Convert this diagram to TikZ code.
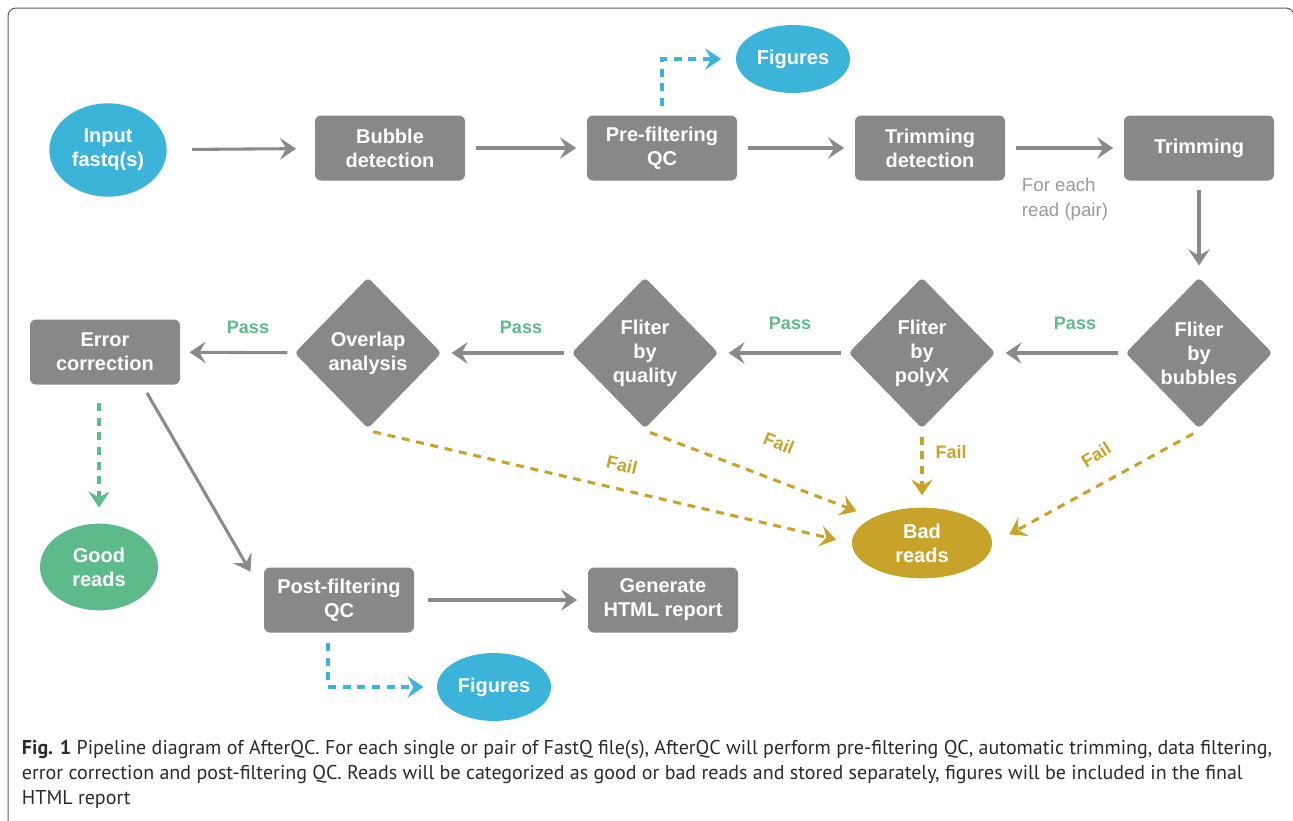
\documentclass[tikz,border=0pt]{standalone}
\usepackage{fontspec}
\setmainfont{Liberation Sans}
\newfontfamily\capfont{PT Sans}
\usetikzlibrary{arrows.meta, shapes.geometric}

\definecolor{boxgray}{HTML}{888888}
\definecolor{linegray}{HTML}{8A8A8A}
\definecolor{notegray}{HTML}{9A9A9A}
\definecolor{qcblue}{HTML}{3CB4DA}
\definecolor{goodgreen}{HTML}{5CBA8B}
\definecolor{badgold}{HTML}{C8A32A}
\definecolor{framegray}{HTML}{5A5A5A}
\definecolor{captext}{HTML}{2A2A2A}

\begin{document}
\begin{tikzpicture}[x=0.75pt, y=-0.75pt, align=center, line width=2.3pt,
  font=\bfseries\fontsize{15}{18}\selectfont,
  >={Stealth[length=12pt, width=16pt, inset=4.5pt]},
  proc/.style={fill=boxgray, text=white, rounded corners=4.5pt, minimum width=112.5pt, minimum height=48.75pt, inner sep=0pt},
  test/.style={diamond, fill=boxgray, text=white, rounded corners=3pt, minimum width=111pt, minimum height=114pt, inner sep=0pt},
  blob/.style={ellipse, text=white, inner sep=0pt},
  flow/.style={->, draw=linegray, shorten <=7pt, shorten >=7pt},
  back/.style={flow, shorten <=4pt, shorten >=6pt},
  dashy/.style={->, dash pattern=on 6pt off 5pt},
  fail/.style={dashy, draw=badgold},
  pass/.style={text=goodgreen, font=\bfseries\fontsize{13.5}{16}\selectfont},
  failtxt/.style={text=badgold, font=\bfseries\fontsize{13.5}{16}\selectfont}]

\useasboundingbox (0,0) rectangle (1293,821);
\draw[framegray, line width=0.75pt, rounded corners=6pt] (8,840) -- (8,8) -- (1294,8) -- (1294,840);

\node[blob, fill=qcblue, minimum width=88pt, minimum height=70pt] (input) at (108,150) {Input\\fastq(s)};
\node[proc] (bubble) at (390,148) {Bubble\\detection};
\node[proc] (preqc) at (662,148) {Pre-filtering\\QC};
\node[proc] (trimdet) at (930,148) {Trimming\\detection};
\node[proc] (trim) at (1199,148) {Trimming};
\node[blob, fill=qcblue, minimum width=85.5pt, minimum height=51pt] (figpre) at (793,59) {Figures};
\node[anchor=north west, align=left, text=notegray, font=\fontsize{14}{18.75}\selectfont] (note) at (1016,172) {For each\\read (pair)};

\node[test] (bubbles) at (1199,353) {Fliter\\by\\bubbles};
\node[test] (polyx) at (922,353) {Fliter\\by\\polyX};
\node[test] (quality) at (645,353) {Fliter\\by\\quality};
\node[test] (overlap) at (368,353) {Overlap\\analysis};
\node[proc] (errcor) at (105,352) {Error\\correction};

\node[pass] (pass1) at (1075,323) {Pass};
\node[pass] (pass2) at (790,323) {Pass};
\node[pass] (pass3) at (521,327) {Pass};
\node[pass] (pass4) at (248,327) {Pass};

\node[blob, fill=badgold, minimum width=105pt, minimum height=53pt] (bad) at (922,543) {Bad\\reads};
\node[blob, fill=goodgreen, minimum width=88.5pt, minimum height=65pt] (good) at (99,567) {Good\\reads};
\node[proc] (postqc) at (339,600) {Post-filtering\\QC};
\node[proc] (report) at (663,600) {Generate\\HTML report};
\node[blob, fill=qcblue, minimum width=85.5pt, minimum height=51pt] (figpost) at (494,687) {Figures};

\node[failtxt, rotate=-13] (fail1) at (622,465) {Fail};
\node[failtxt, rotate=-22] (fail2) at (779,443) {Fail};
\node[failtxt] (fail3) at (951,452) {Fail};
\node[failtxt, rotate=32] (fail4) at (1096,455) {Fail};

\path (input) edge[flow, shorten <=18pt, shorten >=13pt] (bubble)
      (bubble) edge[flow] (preqc)
      (preqc) edge[flow] (trimdet)
      (trimdet) edge[flow] (trim)
      (trim) edge[flow, shorten <=6pt, shorten >=7.5pt] (bubbles)
      (bubbles) edge[back] (polyx)
      (polyx) edge[back] (quality)
      (quality) edge[back] (overlap)
      (overlap) edge[back] (errcor)
      (postqc) edge[flow, shorten <=9pt] (report);
\draw[flow, shorten <=6pt, shorten >=2pt] ([xshift=28.5pt]errcor.south) -- ([xshift=-8pt, yshift=-6pt]postqc.north west);

\draw[dashy, draw=qcblue, shorten <=6pt, shorten >=10pt] (preqc.north) |- (figpre.west);
\draw[dashy, draw=qcblue, shorten <=6.75pt, shorten >=9pt] ([xshift=-8.25pt]postqc.south) |- (figpost.west);
\draw[dashy, draw=goodgreen, shorten <=12.75pt, shorten >=11pt] (good.north |- errcor.south) -- (good.north);

\path (overlap.south) edge[fail, shorten <=4pt, shorten >=11pt] (bad.west)
      (quality.south) edge[fail, shorten <=4pt, shorten >=12pt] (bad.north west)
      (polyx.south) edge[fail, shorten <=4.5pt, shorten >=8pt] (bad.north)
      (bubbles.south) edge[fail, shorten <=5pt, shorten >=13.5pt] (bad.east);

\node[anchor=north west, align=left, text=captext, font=\capfont\fontsize{15}{18.75}\selectfont] (caption) at (16,734)
  {\textbf{Fig. 1} Pipeline diagram of AfterQC. For each single or pair of FastQ file(s), AfterQC will perform pre-filtering QC, automatic trimming, data filtering,\\
   error correction and post-filtering QC. Reads will be categorized as good or bad reads and stored separately, figures will be included in the final\\
   HTML report};
\end{tikzpicture}
\end{document}
